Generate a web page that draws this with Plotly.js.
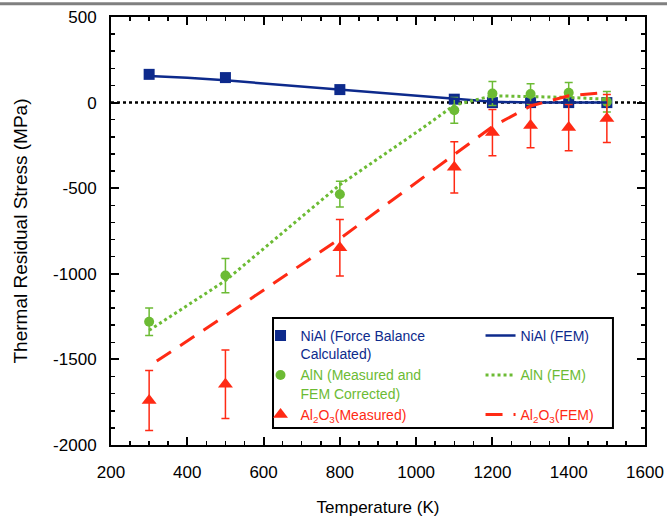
<!DOCTYPE html>
<html><head><meta charset="utf-8">
<script src="https://cdn.plot.ly/plotly-3.0.1.min.js"></script>
<style>html,body{margin:0;padding:0;background:#fff;}#chart{width:667px;height:519px;}</style>
</head><body><div id="chart"></div>
<script>
// Measured / calculated data
const tempMeasured = [300, 500, 800, 1100, 1200, 1300, 1400, 1500];
const niAlForce = [165, 146, 76, 20, 0, 0, 0, 0];
const alnMeasured = [-1280, -1010, -535, -45, 53, 50, 58, 5];
const alnErr = [80, 100, 75, 75, 70, 60, 60, 60];
const al2o3Measured = [-1740, -1645, -848, -378, -175, -134, -146, -93];
const al2o3Err = [175, 200, 165, 150, 135, 130, 135, 140];

// FEM curves
const niAlFemT = [300, 400, 500, 600, 700, 800, 900, 1000, 1100, 1200, 1300, 1400, 1500];
const niAlFem = [155, 145, 130, 112, 95, 75, 60, 42, 20, 5, 0, 0, 0];
const alnFemT = [300, 500, 800, 1000, 1100, 1200, 1300, 1400, 1500];
const alnFem = [-1330, -1040, -480, -175, -15, 40, 35, 30, 20];
const al2o3FemT = [320, 500, 800, 1100, 1200, 1300, 1400, 1500];
const al2o3Fem = [-1510, -1245, -795, -300, -140, -20, 40, 60];

const zeroT = [200, 1600];
const zeroY = [0, 0];

const yTickVals = [500, 0, -500, -1000, -1500, -2000];
const yTickText = ['500', '0', '-500', '-1000', '-1500', '-2000'];
const xTickVals = [200, 400, 600, 800, 1000, 1200, 1400, 1600];

const cBlue = '#0d2a8c', cGreen = '#6cbb34', cRed = '#ff2a14';
const FONT = 'Liberation Sans, Arial, sans-serif';

function col(c, t) { return '<span style="color:' + c + '">' + t + '</span>'; }

const traces = [
  {x: zeroT, y: zeroY, mode: 'lines', line: {color: '#000', width: 2.5, dash: 'dot'}, showlegend: false, hoverinfo: 'skip'},
  {x: tempMeasured, y: niAlForce, mode: 'markers', legend: 'legend', name: col(cBlue, 'NiAl (Force Balance<br>Calculated)'),
   marker: {symbol: 'square', size: 11, color: cBlue}},
  {x: tempMeasured, y: alnMeasured, mode: 'markers', legend: 'legend', name: col(cGreen, 'AlN (Measured and<br>FEM Corrected)'),
   marker: {symbol: 'circle', size: 10, color: cGreen},
   error_y: {type: 'data', array: alnErr, visible: true, color: cGreen, thickness: 1.5, width: 4}},
  {x: tempMeasured, y: al2o3Measured, mode: 'markers', legend: 'legend', name: col(cRed, 'Al<sub>2</sub>O<sub>3</sub>(Measured)'),
   marker: {symbol: 'triangle-up', size: 13, color: cRed},
   error_y: {type: 'data', array: al2o3Err, visible: true, color: cRed, thickness: 1.5, width: 4}},
  {x: niAlFemT, y: niAlFem, mode: 'lines', legend: 'legend2', name: col(cBlue, 'NiAl (FEM)<br> '),
   line: {color: cBlue, width: 2.5}},
  {x: alnFemT, y: alnFem, mode: 'lines', legend: 'legend2', name: col(cGreen, 'AlN (FEM)<br> '),
   line: {color: cGreen, width: 3, dash: 'dot'}},
  {x: al2o3FemT, y: al2o3Fem, mode: 'lines', legend: 'legend2', name: col(cRed, 'Al<sub>2</sub>O<sub>3</sub>(FEM)'),
   line: {color: cRed, width: 3, dash: '17px,11px'}}
];

const axisCommon = {
  showline: true, linecolor: '#000', linewidth: 2, mirror: 'ticks',
  ticks: 'inside', ticklen: 8, tickwidth: 2, tickcolor: '#000',
  showgrid: false, zeroline: false,
  tickfont: {family: FONT, size: 17, color: '#000'}
};

const legendCommon = {
  xanchor: 'left', yanchor: 'top', orientation: 'v', valign: 'top',
  bgcolor: 'rgba(0,0,0,0)', borderwidth: 0,
  font: {family: FONT, size: 14}, itemwidth: 30, tracegroupgap: 0
};

const layout = {
  width: 667, height: 519,
  margin: {l: 111, r: 22, t: 17, b: 74},
  paper_bgcolor: '#fff', plot_bgcolor: '#fff',
  font: {family: FONT, size: 14, color: '#000'},
  xaxis: Object.assign({}, axisCommon, {
    range: [200, 1600], tickvals: xTickVals, ticklabelstandoff: 11,
    minor: {dtick: 50, tick0: 200, ticks: 'inside', ticklen: 4, tickwidth: 1.5, tickcolor: '#000', showgrid: false},
    title: {text: 'Temperature (K)', font: {size: 17, color: '#000'}, standoff: 20}
  }),
  yaxis: Object.assign({}, axisCommon, {
    range: [-2000, 500], tickvals: yTickVals, ticktext: yTickText, ticklabelstandoff: 9,
    minor: {dtick: 100, tick0: 0, ticks: 'inside', ticklen: 4, tickwidth: 1.5, tickcolor: '#000', showgrid: false},
    title: {text: 'Thermal Residual Stress (MPa)', font: {size: 19, color: '#000'}, standoff: 20}
  }),
  legend: Object.assign({}, legendCommon, {x: 0.28, y: 0.292}),
  legend2: Object.assign({}, legendCommon, {x: 0.692, y: 0.292}),
  shapes: [
    {type: 'line', xref: 'paper', yref: 'paper', x0: -0.21, x1: 1.05, y0: 1.031, y1: 1.031,
     line: {color: '#808080', width: 3}},
    {type: 'rect', xref: 'paper', yref: 'paper', x0: 0.3034, x1: 0.940, y0: 0.0397, y1: 0.2967,
     layer: 'above', fillcolor: '#fff', line: {color: '#000', width: 2}}
  ]
};

Plotly.newPlot('chart', traces, layout, {displayModeBar: false, staticPlot: true});
</script></body></html>
